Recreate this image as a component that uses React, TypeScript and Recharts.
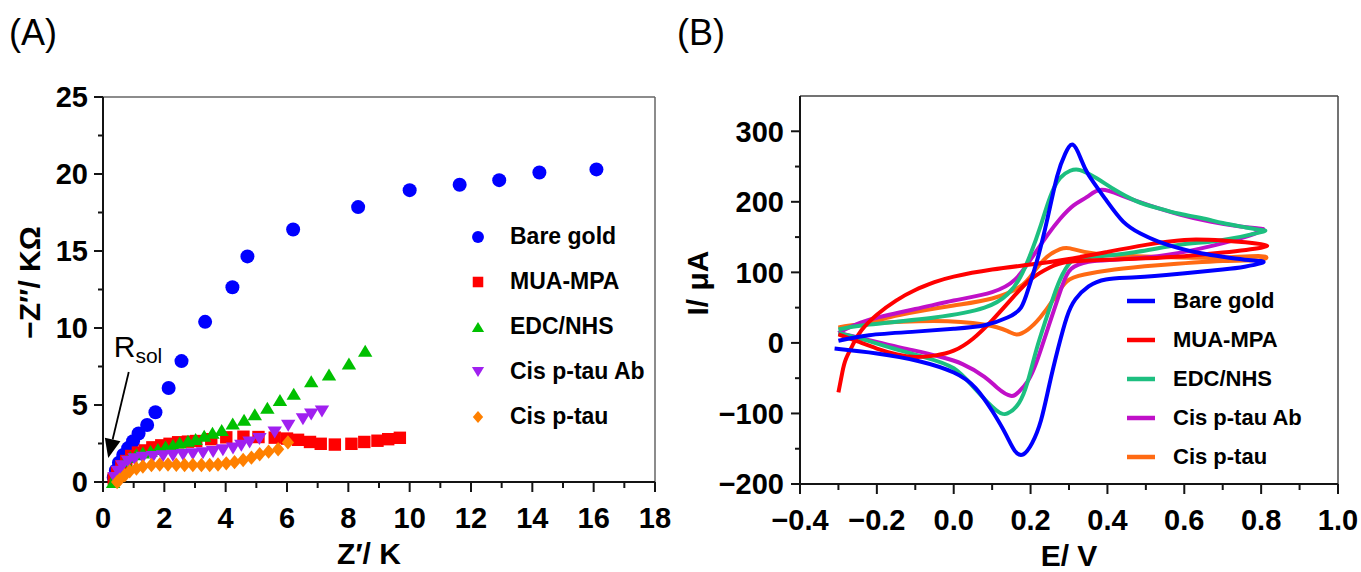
import React from "react";
import {
  ScatterChart,
  Scatter,
  LineChart,
  Line,
  XAxis,
  YAxis,
  ReferenceLine,
  Legend,
  Label,
} from "recharts";

const FONT = '"Liberation Sans", Arial, Helvetica, sans-serif';
const INK = "#141414";

// ---------- (A) Nyquist plot: [Z' (K), -Z'' (KΩ)]
const bareGold = [
  [0.35, 0.3], [0.42, 0.75], [0.52, 1.25], [0.66, 1.75], [0.82, 2.2],
  [0.98, 2.65], [1.16, 3.15], [1.44, 3.7], [1.71, 4.53], [2.14, 6.1],
  [2.56, 7.85], [3.33, 10.4], [4.22, 12.65], [4.71, 14.65], [6.2, 16.4],
  [8.32, 17.85], [10.0, 18.95], [11.63, 19.3], [12.92, 19.6], [14.23, 20.1],
  [16.09, 20.3],
];
const muaMpa = [
  [0.35, 0.22], [0.46, 0.6], [0.6, 1.03], [0.76, 1.36], [0.92, 1.69],
  [1.14, 1.91], [1.36, 2.05], [1.61, 2.25], [1.9, 2.38], [2.17, 2.48],
  [2.45, 2.58], [2.77, 2.62], [3.04, 2.66], [3.53, 2.78], [4.02, 2.9],
  [4.58, 2.94], [5.07, 2.92], [5.6, 2.88], [6.0, 2.82], [6.36, 2.74],
  [6.75, 2.6], [7.1, 2.48], [7.56, 2.43], [8.1, 2.48], [8.52, 2.6],
  [8.95, 2.68], [9.3, 2.78], [9.68, 2.87],
];
const edcNhs = [
  [0.33, 0.0], [0.43, 0.48], [0.58, 0.96], [0.73, 1.36], [0.89, 1.62],
  [1.09, 1.8], [1.3, 1.91], [1.55, 2.02], [1.79, 2.15], [2.04, 2.3],
  [2.28, 2.41], [2.5, 2.57], [2.77, 2.68], [3.02, 2.8], [3.3, 3.0],
  [3.57, 3.2], [3.87, 3.38], [4.23, 3.8], [4.6, 4.04], [4.95, 4.4],
  [5.36, 4.82], [5.77, 5.33], [6.22, 5.73], [6.79, 6.55], [7.37, 6.98],
  [8.02, 7.69], [8.55, 8.52],
];
const cisTauAb = [
  [0.38, 0.26], [0.49, 0.66], [0.63, 1.03], [0.82, 1.32], [1.03, 1.47],
  [1.3, 1.58], [1.63, 1.62], [1.96, 1.67], [2.28, 1.71], [2.61, 1.75],
  [2.93, 1.8], [3.26, 1.86], [3.59, 1.95], [3.91, 2.06], [4.24, 2.17],
  [4.51, 2.35], [4.78, 2.57], [5.1, 2.8], [5.6, 3.22], [6.04, 3.65],
  [6.52, 4.08], [6.79, 4.38], [7.14, 4.57],
];
const cisTau = [
  [0.46, 0.0], [0.54, 0.15], [0.71, 0.44], [0.87, 0.7], [1.09, 0.88],
  [1.3, 1.01], [1.58, 1.1], [1.85, 1.14], [2.12, 1.14], [2.39, 1.12],
  [2.66, 1.1], [2.93, 1.1], [3.21, 1.1], [3.48, 1.1], [3.75, 1.14],
  [4.02, 1.21], [4.29, 1.29], [4.57, 1.43], [4.84, 1.58], [5.11, 1.8],
  [5.4, 1.97], [5.71, 2.13], [6.03, 2.57],
];

const zReTicks = [0, 1, 2, 3, 4, 5, 6, 7, 8, 9, 10, 11, 12, 13, 14, 15, 16, 17, 18];
const zImTicks = [0, 2.5, 5, 7.5, 10, 12.5, 15, 17.5, 20, 22.5, 25];

// ---------- (B) cyclic voltammograms: [E (V), I (µA)], forward scan then reverse
const cvBareGold = [
  [-0.3, 3], [-0.22, 11], [-0.1, 16], [0.0, 20], [0.08, 25], [0.14, 36],
  [0.175, 50], [0.195, 78], [0.217, 117], [0.243, 174], [0.269, 236],
  [0.29, 268], [0.31, 281], [0.33, 262], [0.351, 238], [0.396, 203],
  [0.441, 172], [0.486, 155], [0.531, 144], [0.588, 134], [0.644, 127],
  [0.7, 122], [0.757, 118], [0.8, 116],
  [0.8, 113], [0.757, 108], [0.7, 104], [0.588, 98], [0.475, 93],
  [0.396, 90], [0.351, 80], [0.317, 62], [0.294, 36], [0.272, -7],
  [0.249, -59], [0.227, -110], [0.204, -142], [0.181, -158], [0.159, -153],
  [0.136, -130], [0.102, -98], [0.057, -64], [0.0, -42], [-0.09, -26],
  [-0.2, -15], [-0.31, -8],
];
const cvMuaMpa = [
  [-0.3, -70], [-0.29, -42], [-0.28, -22], [-0.26, 0], [-0.24, 18],
  [-0.2, 40], [-0.15, 60], [-0.1, 75], [-0.05, 86], [0.0, 94], [0.1, 104],
  [0.2, 111], [0.3, 119], [0.4, 129], [0.5, 139], [0.6, 146], [0.7, 145],
  [0.8, 140],
  [0.8, 135], [0.7, 128], [0.6, 123], [0.5, 120], [0.4, 118], [0.3, 115],
  [0.25, 107], [0.2, 90], [0.15, 62], [0.1, 32], [0.05, 6], [0.0, -11],
  [-0.05, -18], [-0.1, -20], [-0.15, -16], [-0.2, -8], [-0.25, 2],
  [-0.3, 12],
];
const cvEdcNhs = [
  [-0.3, 19], [-0.22, 26], [-0.05, 36], [0.08, 50], [0.14, 69],
  [0.173, 93], [0.2, 126], [0.225, 164], [0.251, 207], [0.277, 234],
  [0.303, 244], [0.329, 245], [0.373, 233], [0.419, 217], [0.475, 201],
  [0.531, 191], [0.588, 183], [0.644, 177], [0.7, 170], [0.757, 164],
  [0.8, 160],
  [0.8, 157], [0.7, 146], [0.588, 139], [0.475, 129], [0.362, 122],
  [0.312, 118], [0.283, 97], [0.26, 66], [0.238, 30], [0.215, -10],
  [0.193, -54], [0.17, -85], [0.14, -100], [0.11, -95], [0.057, -66],
  [0.0, -36], [-0.078, -20], [-0.169, -6], [-0.236, 5], [-0.3, 14],
];
const cvCisTauAb = [
  [-0.3, 14], [-0.225, 32], [-0.1, 48], [0.0, 60], [0.1, 72],
  [0.16, 90], [0.2, 118], [0.243, 152], [0.277, 176], [0.312, 195],
  [0.347, 207], [0.385, 217], [0.441, 208], [0.509, 195], [0.588, 182],
  [0.667, 172], [0.746, 165], [0.8, 162],
  [0.8, 159], [0.757, 150], [0.644, 134], [0.531, 123], [0.419, 118],
  [0.351, 115], [0.306, 105], [0.283, 82], [0.26, 45], [0.238, 9],
  [0.215, -28], [0.193, -54], [0.17, -69], [0.148, -75], [0.114, -64],
  [0.08, -48], [0.023, -30], [-0.033, -20], [-0.101, -11], [-0.169, -3],
  [-0.236, 6], [-0.3, 14],
];
const cvCisTau = [
  [-0.3, 21], [-0.225, 29], [-0.138, 40], [0.0, 53], [0.1, 63],
  [0.173, 80], [0.208, 100], [0.243, 122], [0.277, 133], [0.303, 134],
  [0.362, 127], [0.475, 123], [0.588, 121], [0.7, 121], [0.8, 123],
  [0.8, 118], [0.7, 116], [0.531, 110], [0.419, 104], [0.34, 97],
  [0.294, 87], [0.26, 62], [0.225, 36], [0.193, 19], [0.164, 12],
  [0.139, 17], [0.078, 26], [-0.052, 31], [-0.225, 27], [-0.3, 22],
];

const eTicks = [-0.4, -0.3, -0.2, -0.1, 0, 0.1, 0.2, 0.3, 0.4, 0.5, 0.6, 0.7, 0.8, 0.9, 1.0];
const iTicks = [-200, -150, -100, -50, 0, 50, 100, 150, 200, 250, 300];

const nyquistSeries = [
  { name: "Bare gold", points: bareGold, color: "#0000FF", shape: "circle" },
  { name: "MUA-MPA", points: muaMpa, color: "#FF0000", shape: "square" },
  { name: "EDC/NHS", points: edcNhs, color: "#00C000", shape: "up" },
  { name: "Cis p-tau Ab", points: cisTauAb, color: "#A020F0", shape: "down" },
  { name: "Cis p-tau", points: cisTau, color: "#FF8000", shape: "diamond" },
];

const cvSeries = [
  { name: "Bare gold", points: cvBareGold, color: "#0000FF" },
  { name: "MUA-MPA", points: cvMuaMpa, color: "#FF0000" },
  { name: "EDC/NHS", points: cvEdcNhs, color: "#1DBF80" },
  { name: "Cis p-tau Ab", points: cvCisTauAb, color: "#C010C8" },
  { name: "Cis p-tau", points: cvCisTau, color: "#FF6A13" },
];
// drawing order for the CV curves (blue ends up on top)
const cvDrawOrder = ["Cis p-tau", "Cis p-tau Ab", "EDC/NHS", "MUA-MPA", "Bare gold"];

const withMinus = (v: number, digits: number) =>
  (v < 0 ? "\u2212" : "") + Math.abs(v).toFixed(digits);

const X_GAP = 23;
const Y_GAP = 15;

function Marker({ shape, cx, cy, color, s = 1 }: any) {
  if (shape === "circle") return <circle cx={cx} cy={cy} r={7 * s} fill={color} />;
  if (shape === "square")
    return <rect x={cx - 6.2 * s} y={cy - 6.2 * s} width={12.4 * s} height={12.4 * s} fill={color} />;
  if (shape === "up" || shape === "down") {
    const h = 6 * s;
    const w = 7.2 * s;
    const k = shape === "up" ? 1 : -1;
    return (
      <polygon
        points={`${cx},${cy - k * h} ${cx + w},${cy + k * h} ${cx - w},${cy + k * h}`}
        fill={color}
      />
    );
  }
  const r = 7.2 * s;
  return (
    <polygon
      points={`${cx},${cy - r} ${cx + r * 0.85},${cy} ${cx},${cy + r} ${cx - r * 0.85},${cy}`}
      fill={color}
    />
  );
}

function bottomTick(isMajor: (v: number) => boolean, fmt: (v: number) => string, fontSize: number) {
  return (p: any) => {
    const v = p.payload.value;
    const major = isMajor(v);
    const axisY = p.y - X_GAP;
    return (
      <g>
        <line x1={p.x} x2={p.x} y1={axisY} y2={axisY + (major ? 10 : 6)} stroke={INK} strokeWidth={2} />
        {major && (
          <text x={p.x} y={axisY + 46} textAnchor="middle" fontFamily={FONT} fontWeight="bold" fontSize={fontSize} fill="#000">
            {fmt(v)}
          </text>
        )}
      </g>
    );
  };
}

function leftTick(isMajor: (v: number) => boolean, fmt: (v: number) => string, fontSize: number, gap: number) {
  return (p: any) => {
    const v = p.payload.value;
    const major = isMajor(v);
    const axisX = p.x + Y_GAP;
    return (
      <g>
        <line x1={axisX} x2={axisX - (major ? 9 : 5)} y1={p.y} y2={p.y} stroke={INK} strokeWidth={2} />
        {major && (
          <text x={axisX - gap} y={p.y + fontSize * 0.36} textAnchor="end" fontFamily={FONT} fontWeight="bold" fontSize={fontSize} fill="#000">
            {fmt(v)}
          </text>
        )}
      </g>
    );
  };
}

function xTitle(text: string, shift: number) {
  return (p: any) => {
    const vb = p.viewBox;
    return (
      <text x={vb.x + vb.width / 2 + shift} y={vb.y + 82} textAnchor="middle" fontFamily={FONT} fontWeight="bold" fontSize={30} fill="#000">
        {text}
      </text>
    );
  };
}

function yTitle(text: string, baseX: number, shift: number) {
  return (p: any) => {
    const vb = p.viewBox;
    const cy = vb.y + vb.height / 2 + shift;
    return (
      <text x={baseX} y={cy} transform={`rotate(-90, ${baseX}, ${cy})`} textAnchor="middle" fontFamily={FONT} fontWeight="bold" fontSize={30} fill="#000">
        {text}
      </text>
    );
  };
}

function RsolArrow(p: any) {
  const { x1, y1, x2, y2 } = p;
  const dx = x2 - x1;
  const dy = y2 - y1;
  const len = Math.hypot(dx, dy) || 1;
  const ux = dx / len;
  const uy = dy / len;
  const head = 19;
  const half = 8;
  const bx = x2 - ux * head;
  const by = y2 - uy * head;
  return (
    <g>
      <line x1={x1} y1={y1} x2={bx} y2={by} stroke="#000" strokeWidth={1.8} />
      <polygon points={`${x2},${y2} ${bx - uy * half},${by + ux * half} ${bx + uy * half},${by - ux * half}`} fill="#000" />
      <text x={x1 - 15} y={y1 - 15} fontFamily={FONT} fontSize={30} fill="#000">
        R<tspan fontSize={21} dy={6}>sol</tspan>
      </text>
    </g>
  );
}

function NyquistLegend() {
  return (
    <div>
      {nyquistSeries.map((s) => (
        <div key={s.name} style={{ height: 45, display: "flex", alignItems: "center" }}>
          <svg width={16} height={16} style={{ flex: "none" }}>
            <Marker shape={s.shape} cx={8} cy={8} color={s.color} s={0.85} />
          </svg>
          <span style={{ marginLeft: 24, fontFamily: FONT, fontWeight: "bold", fontSize: 23, color: "#000", whiteSpace: "nowrap" }}>
            {s.name}
          </span>
        </div>
      ))}
    </div>
  );
}

function CvLegend() {
  return (
    <div>
      {cvSeries.map((s) => (
        <div key={s.name} style={{ height: 39, display: "flex", alignItems: "center" }}>
          <svg width={28} height={6} style={{ flex: "none" }}>
            <line x1={0} x2={28} y1={3} y2={3} stroke={s.color} strokeWidth={4.5} />
          </svg>
          <span style={{ marginLeft: 18, fontFamily: FONT, fontWeight: "bold", fontSize: 22, color: "#000", whiteSpace: "nowrap" }}>
            {s.name}
          </span>
        </div>
      ))}
    </div>
  );
}

const panelLetter: React.CSSProperties = {
  position: "absolute",
  top: 15,
  fontFamily: FONT,
  fontSize: 36,
  lineHeight: "36px",
  color: "#000",
};

export default function App() {
  const axisLine = { stroke: INK, strokeWidth: 2 };
  return (
    <div style={{ position: "absolute", left: 0, top: 0, width: 1361, height: 572, background: "#fff", overflow: "hidden" }}>
      <div style={{ ...panelLetter, left: 9 }}>(A)</div>
      <div style={{ ...panelLetter, left: 677 }}>(B)</div>

      <div style={{ position: "absolute", left: 0, top: 0 }}>
        <ScatterChart width={680} height={572} margin={{ top: 97, right: 25, bottom: 30, left: 0 }}>
          <XAxis
            type="number"
            dataKey="x"
            domain={[0, 18]}
            ticks={zReTicks}
            interval={0}
            height={60}
            tickSize={0}
            tickMargin={X_GAP}
            tickLine={false}
            axisLine={axisLine}
            tick={bottomTick((v) => v % 2 === 0, (v) => String(v), 29)}
          >
            <Label content={xTitle("Z\u2032/ K", -10)} />
          </XAxis>
          <YAxis
            type="number"
            dataKey="y"
            domain={[0, 25]}
            ticks={zImTicks}
            interval={0}
            width={103}
            tickSize={0}
            tickMargin={Y_GAP}
            tickLine={false}
            axisLine={axisLine}
            tick={leftTick((v) => v % 5 === 0, (v) => String(v), 29, 15)}
          >
            <Label content={yTitle("\u2212Z\u2033/ K\u03A9", 40, -7)} />
          </YAxis>
          <ReferenceLine y={25} stroke="#666" strokeWidth={1.5} />
          <ReferenceLine x={18} stroke="#666" strokeWidth={1.5} />
          <ReferenceLine
            segment={[{ x: 0.84, y: 7.14 }, { x: 0.17, y: 1.56 }]}
            shape={RsolArrow}
          />
          {nyquistSeries.map((s) => (
            <Scatter
              key={s.name}
              name={s.name}
              data={s.points.map(([x, y]) => ({ x, y }))}
              fill={s.color}
              isAnimationActive={false}
              shape={(p: any) => <Marker shape={s.shape} cx={p.cx} cy={p.cy} color={s.color} />}
            />
          ))}
          <Legend
            layout="vertical"
            align="center"
            verticalAlign="middle"
            wrapperStyle={{ left: 470, top: 214, right: "auto", bottom: "auto", width: 200 }}
            content={() => <NyquistLegend />}
          />
        </ScatterChart>
      </div>

      <div style={{ position: "absolute", left: 680, top: 0 }}>
        <LineChart width={681} height={572} margin={{ top: 96, right: 23, bottom: 28, left: 0 }}>
          <XAxis
            type="number"
            dataKey="e"
            domain={[-0.4, 1.0]}
            ticks={eTicks}
            interval={0}
            height={60}
            tickSize={0}
            tickMargin={X_GAP}
            tickLine={false}
            axisLine={axisLine}
            tick={bottomTick((v) => Math.round(v * 10) % 2 === 0, (v) => withMinus(v, 1), 29)}
          >
            <Label content={xTitle("E/ V", 0)} />
          </XAxis>
          <YAxis
            type="number"
            dataKey="i"
            domain={[-200, 350]}
            ticks={iTicks}
            interval={0}
            width={120}
            tickSize={0}
            tickMargin={Y_GAP}
            tickLine={false}
            axisLine={axisLine}
            tick={leftTick((v) => v % 100 === 0, (v) => withMinus(v, 0), 29, 16)}
          >
            <Label content={yTitle("I/ \u03BCA", 28, -7)} />
          </YAxis>
          <ReferenceLine y={350} stroke="#444" strokeWidth={1.5} />
          <ReferenceLine x={1.0} stroke="#444" strokeWidth={1.5} />
          {cvDrawOrder.map((name) => {
            const s = cvSeries.find((c) => c.name === name)!;
            return (
              <Line
                key={s.name}
                name={s.name}
                data={s.points.map(([e, i]) => ({ e, i }))}
                dataKey="i"
                type="natural"
                stroke={s.color}
                strokeWidth={4}
                dot={false}
                activeDot={false}
                isAnimationActive={false}
              />
            );
          })}
          <Legend
            layout="vertical"
            align="center"
            verticalAlign="middle"
            wrapperStyle={{ left: 447, top: 281, right: "auto", bottom: "auto", width: 220 }}
            content={() => <CvLegend />}
          />
        </LineChart>
      </div>
    </div>
  );
}
